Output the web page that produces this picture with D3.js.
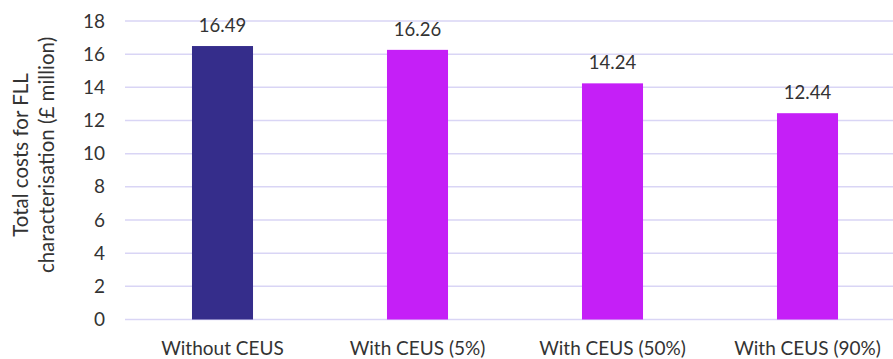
<!DOCTYPE html>
<html>
<head>
<meta charset="utf-8">
<script src="https://cdn.jsdelivr.net/npm/d3@7"></script>
<style>
  body { margin: 0; background: #fff; }
  text { font-family: Lato, "Open Sans", sans-serif; fill: #333; }
</style>
</head>
<body>
<div id="chart"></div>
<script>
var categories = ["Without CEUS", "With CEUS (5%)", "With CEUS (50%)", "With CEUS (90%)"];
var costs = [16.49, 16.26, 14.24, 12.44];
var barColors = ["#352d8b", "#c51ff7", "#c51ff7", "#c51ff7"];
var yTicks = [0, 2, 4, 6, 8, 10, 12, 14, 16, 18];
var yTitle = ["Total costs for FLL", "characterisation (£ million)"];

var svg = d3.select("#chart").append("svg")
  .attr("width", 893)
  .attr("height", 359);

var x = d3.scaleBand()
  .domain(categories)
  .range([125, 905])
  .paddingInner(0.687)
  .paddingOuter(0.3435);

var y = d3.scaleLinear()
  .domain([0, 18])
  .range([319.5, 21]);

// gridlines
svg.selectAll("line.grid")
  .data(yTicks)
  .enter()
  .append("line")
  .attr("x1", 125)
  .attr("x2", 893)
  .attr("y1", function(d) { return y(d); })
  .attr("y2", function(d) { return y(d); })
  .attr("stroke", "#d9d5f5")
  .attr("stroke-width", 1.5);

// y axis labels
var yAxis = svg.append("g")
  .attr("transform", "translate(111,0)")
  .call(d3.axisLeft(y).tickValues(yTicks).tickSize(0).tickPadding(6));
yAxis.select(".domain").remove();
yAxis.selectAll("text")
  .style("font-size", "19px")
  .attr("fill", "#333");

// bars
svg.selectAll("rect.bar")
  .data(costs)
  .enter()
  .append("rect")
  .attr("x", function(d, i) { return x(categories[i]); })
  .attr("y", function(d) { return y(d); })
  .attr("width", x.bandwidth())
  .attr("height", function(d) { return y(0) - y(d); })
  .style("fill", function(d, i) { return barColors[i]; });

// value labels
svg.selectAll("text.value")
  .data(costs)
  .enter()
  .append("text")
  .attr("x", function(d, i) { return x(categories[i]) + x.bandwidth() / 2; })
  .attr("y", function(d) { return y(d) - 14; })
  .attr("text-anchor", "middle")
  .style("font-size", "18.5px")
  .text(function(d) { return d.toFixed(2); });

// category labels
svg.selectAll("text.cat")
  .data(categories)
  .enter()
  .append("text")
  .attr("x", function(d) { return x(d) + x.bandwidth() / 2; })
  .attr("y", 355)
  .attr("text-anchor", "middle")
  .style("font-size", "19px")
  .text(function(d) { return d; });

// y title, two lines
svg.selectAll("text.ytitle")
  .data(yTitle)
  .enter()
  .append("text")
  .attr("transform", function(d, i) { return "translate(" + (28 + i * 26) + ",155) rotate(-90)"; })
  .attr("text-anchor", "middle")
  .style("font-size", "20.5px")
  .text(function(d) { return d; });
</script>
</body>
</html>
